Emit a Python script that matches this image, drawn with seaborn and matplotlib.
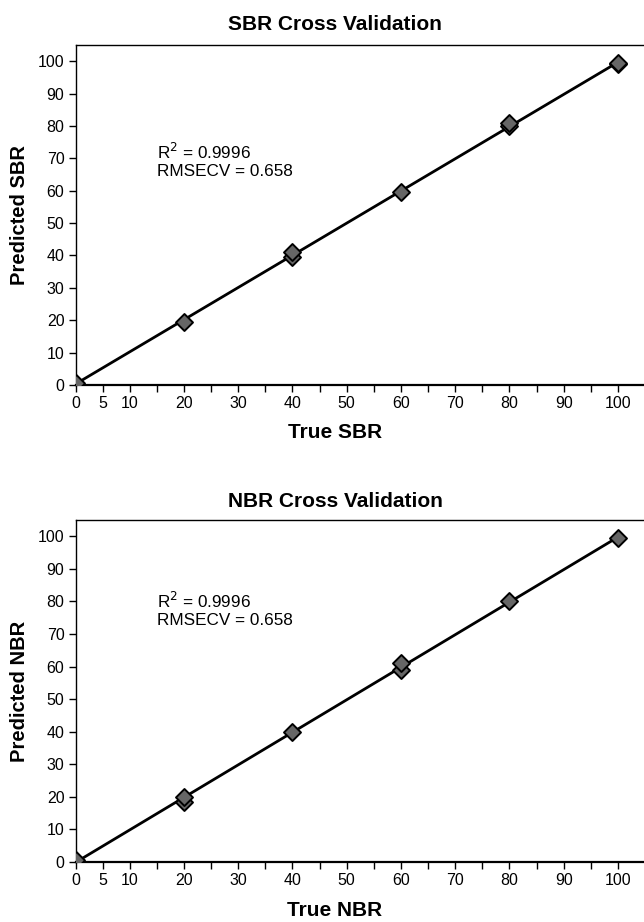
import numpy as np
import pandas as pd
import seaborn as sns
import matplotlib
matplotlib.use("Agg")
import matplotlib.pyplot as plt
from matplotlib import font_manager

sns.set_theme(style="white")

# Data
sbr_true = [0, 20, 40, 40, 60, 80, 80, 100, 100]
sbr_pred = [0.5, 19.5, 39.5, 41.0, 59.5, 80.0, 81.0, 99.0, 99.5]
nbr_true = [0, 20, 20, 40, 60, 60, 80, 100]
nbr_pred = [0.5, 18.5, 20.0, 40.0, 59.0, 61.0, 80.0, 99.5]

x_ticks = list(range(0, 101, 5))
x_ticklabels = [str(v) if (v in (0, 5) or v % 10 == 0) else "" for v in x_ticks]
y_ticks = list(range(0, 101, 10))

names = {f.name for f in font_manager.fontManager.ttflist}
if "Liberation Sans Narrow" in names:
    tick_family, tick_size, ann_size = ["Liberation Sans Narrow", "DejaVu Sans"], 13, 13.5
else:
    tick_family, tick_size, ann_size = ["Liberation Sans", "DejaVu Sans"], 11.5, 12.3
bold_family = ["Liberation Sans", "DejaVu Sans"]
plt.rcParams['font.family'] = tick_family

panels = [
    dict(title="SBR Cross Validation", xlabel="True SBR", ylabel="Predicted SBR",
         x=sbr_true, y=sbr_pred, r2="0.9996", rmse="0.658", ann_y=(72, 66),
         title_y=25, xlabel_y=432),
    dict(title="NBR Cross Validation", xlabel="True NBR", ylabel="Predicted NBR",
         x=nbr_true, y=nbr_pred, r2="0.9996", rmse="0.658", ann_y=(80, 74),
         title_y=501, xlabel_y=910),
]

W, H = 644, 922
fig = plt.figure(figsize=(W / 100, H / 100), dpi=100)
left_px = 75.5
axes_rects = [
    [left_px / W, 1 - 385 / H, 1 - left_px / W, (385 - 45) / H],
    [left_px / W, 1 - 862 / H, 1 - left_px / W, (862 - 520) / H],
]
center_x = 335 / W

for rect, p in zip(axes_rects, panels):
    ax = fig.add_axes(rect)
    df = pd.DataFrame({"t": p["x"], "p": p["y"]})
    sns.regplot(data=df, x="t", y="p", ax=ax, ci=None, marker="D",
                scatter_kws=dict(s=75, color="#666666", edgecolors="black",
                                 linewidths=1.4, alpha=1, zorder=3, clip_on=True),
                line_kws=dict(color="black", lw=2.0, zorder=2))
    ax.set_xlim(0, 104.8)
    ax.set_ylim(0, 105)
    ax.set_xticks(x_ticks)
    ax.set_xticklabels(x_ticklabels)
    ax.set_yticks(y_ticks)
    ax.tick_params(axis="both", direction="out", length=5, width=1, color="black",
                   labelsize=tick_size, pad=3, labelcolor="black")
    ax.tick_params(axis="x", bottom=True)
    ax.tick_params(axis="y", left=True)
    for s, lw in (("left", 1.0), ("bottom", 1.6), ("top", 1.0)):
        ax.spines[s].set_visible(True)
        ax.spines[s].set_color("black")
        ax.spines[s].set_linewidth(lw)
    ax.spines["right"].set_visible(False)
    ax.set_xlabel("")
    ax.set_ylabel("")
    fig.text(center_x, 1 - p["title_y"] / H, p["title"], fontsize=15, fontweight="bold",
             family=bold_family, ha="center", va="center", color="black")
    fig.text(center_x, 1 - p["xlabel_y"] / H, p["xlabel"], fontsize=15, fontweight="bold",
             family=bold_family, ha="center", va="center", color="black")
    ycen = 1 - ((rect[1] + rect[3] / 2))
    fig.text(20 / W, rect[1] + rect[3] / 2, p["ylabel"], fontsize=14.5, fontweight="bold",
             family=bold_family, ha="center", va="center", rotation=90, color="black")
    ax.text(15, p["ann_y"][0], f"R$^2$ = {p['r2']}", fontsize=ann_size, va="center",
            color="black")
    ax.text(15, p["ann_y"][1], f"RMSECV = {p['rmse']}", fontsize=ann_size, va="center",
            color="black")

fig.savefig("out.png", dpi=100)
